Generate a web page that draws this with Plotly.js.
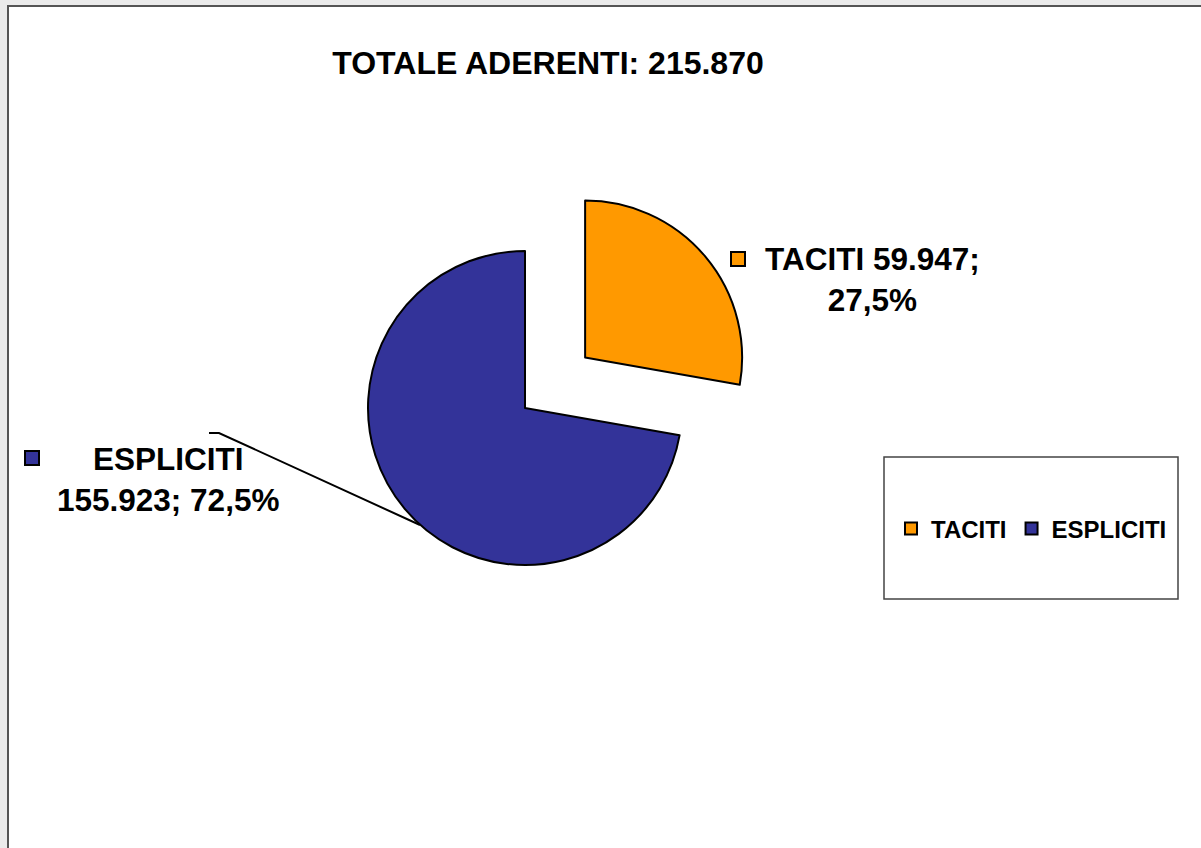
<!DOCTYPE html>
<html>
<head>
<meta charset="utf-8">
<script src="https://cdn.plot.ly/plotly-3.0.1.min.js"></script>
<style>html,body{margin:0;padding:0;background:#ebebeb;}#chart{width:1201px;height:848px;}</style>
</head>
<body>
<div id="chart"></div>
<script>
// ---- data ----
const categories = ["TACITI", "ESPLICITI"];
const members = [59947, 155923];
const shownPercent = ["27,5%", "72,5%"];
const totalMembers = 215870;
const sliceColors = ["#FF9900", "#333399"];
const chartTitle = "TOTALE ADERENTI: ";

// ---- helpers ----
const W = 1201, H = 848;
const px = x => x / W;
const py = y => 1 - y / H;
const fmt = n => n.toString().replace(/\B(?=(\d{3})+(?!\d))/g, ".");
const labelFont = {family: "Liberation Sans, Arial, sans-serif", size: 31.5, color: "#000", weight: "bold"};

const trace = {
  type: "pie",
  labels: categories,
  values: members,
  sort: false,
  direction: "clockwise",
  rotation: 0,
  pull: [0.5, 0],
  marker: {colors: sliceColors, line: {color: "#000", width: 2}},
  textinfo: "none",
  hoverinfo: "none",
  domain: {x: [px(525 - 235.5), px(525 + 235.5)], y: [py(408 + 235.5), py(408 - 235.5)]}
};

const shapes = [
  // chart frame
  {type: "rect", xref: "paper", yref: "paper", x0: px(8), x1: 1.2, y0: -0.2, y1: py(6),
   fillcolor: "#ffffff", line: {color: "#555555", width: 2}, layer: "below"},
  // legend box
  {type: "rect", xref: "paper", yref: "paper", x0: px(884), x1: px(1178), y0: py(599), y1: py(457),
   fillcolor: "#ffffff", line: {color: "#444444", width: 1.5}, layer: "below"},
  // label keys
  {type: "rect", xref: "paper", yref: "paper", x0: px(731), x1: px(745), y0: py(266), y1: py(252),
   fillcolor: sliceColors[0], line: {color: "#000", width: 2}},
  {type: "rect", xref: "paper", yref: "paper", x0: px(25), x1: px(39), y0: py(465), y1: py(451),
   fillcolor: sliceColors[1], line: {color: "#000", width: 2}},
  // leader line
  {type: "path", xref: "paper", yref: "paper",
   path: `M ${px(209)} ${py(433)} L ${px(219)} ${py(433)} L ${px(420)} ${py(525)}`,
   line: {color: "#000", width: 2}}
];

const annotations = [
  {xref: "paper", yref: "paper", x: px(872), y: py(279), xanchor: "center", yanchor: "middle",
   showarrow: false, align: "center", font: labelFont,
   text: `${categories[0]} ${fmt(members[0])};<br>${shownPercent[0]}`},
  {xref: "paper", yref: "paper", x: px(168), y: py(479), xanchor: "center", yanchor: "middle",
   showarrow: false, align: "center", font: labelFont,
   text: `${categories[1]}<br>${fmt(members[1])}; ${shownPercent[1]}`}
];

const layout = {
  width: W, height: H,
  margin: {l: 0, r: 0, t: 0, b: 0},
  paper_bgcolor: "#ebebeb",
  title: {text: chartTitle + fmt(totalMembers), x: px(548), xanchor: "center", xref: "paper",
          y: py(63), yanchor: "middle", yref: "container",
          font: {family: "Liberation Sans, Arial, sans-serif", size: 32, color: "#000", weight: "bold"}},
  showlegend: true,
  legend: {orientation: "h", x: px(891), xanchor: "left", y: py(529), yanchor: "middle",
           bgcolor: "rgba(0,0,0,0)", borderwidth: 0, itemwidth: 30,
           font: {family: "Liberation Sans, Arial, sans-serif", size: 24, color: "#000", weight: "bold"}},
  shapes: shapes,
  annotations: annotations
};

Plotly.newPlot("chart", [trace], layout, {displayModeBar: false, staticPlot: true});
</script>
</body>
</html>
